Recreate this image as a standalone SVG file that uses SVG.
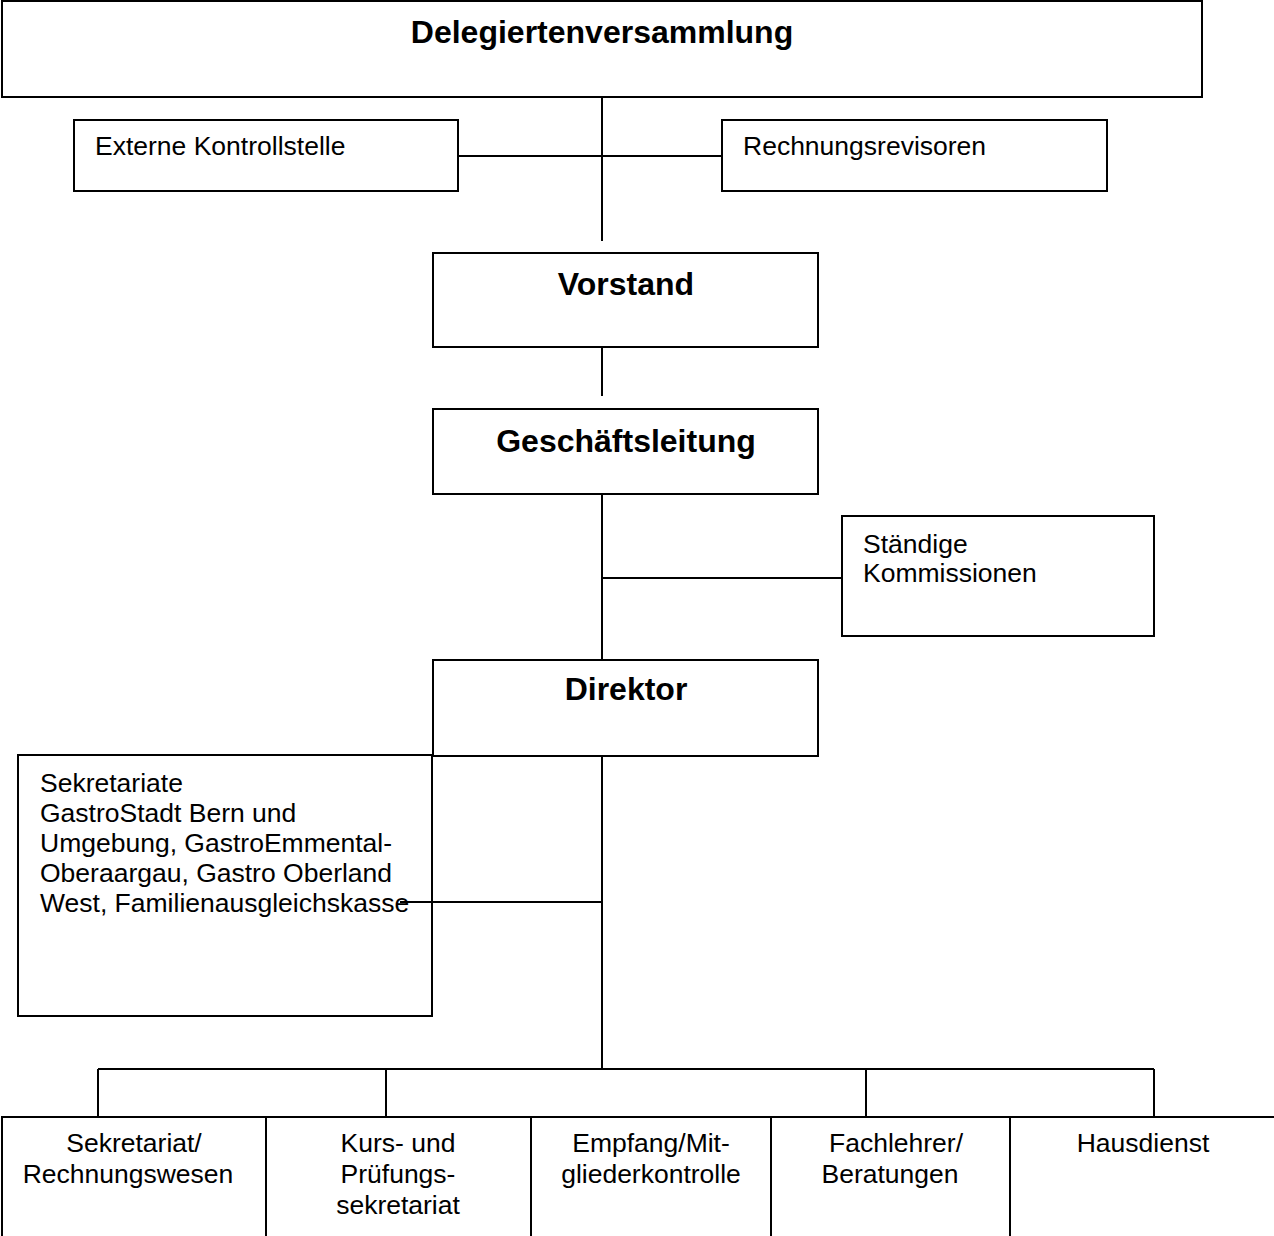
<svg xmlns="http://www.w3.org/2000/svg" width="1274" height="1236" viewBox="0 0 1274 1236">
<style>
rect{fill:#fff;stroke:#000;stroke-width:2}
line{stroke:#000;stroke-width:2}
text{font-family:"Liberation Sans",Arial,sans-serif;font-size:26.5px;fill:#000}
.b{font-weight:bold;font-size:32px;text-anchor:middle}
.c{text-anchor:middle}
</style>
<rect x="0" y="0" width="1274" height="1236" style="stroke:none"/>
<g id="delegiertenversammlung"><rect x="2" y="1" width="1200" height="96"/><text class="b" x="602" y="43">Delegiertenversammlung</text></g>
<g id="externe-kontrollstelle"><rect x="74" y="120" width="384" height="71"/><text x="95" y="155">Externe Kontrollstelle</text></g>
<g id="rechnungsrevisoren"><rect x="722" y="120" width="385" height="71"/><text x="743" y="155">Rechnungsrevisoren</text></g>
<g id="vorstand"><rect x="433" y="253" width="385" height="94"/><text class="b" x="626" y="295">Vorstand</text></g>
<g id="geschaeftsleitung"><rect x="433" y="409" width="385" height="85"/><text class="b" x="626" y="452">Geschäftsleitung</text></g>
<g id="staendige-kommissionen"><rect x="842" y="516" width="312" height="120"/><text x="863" y="553">Ständige</text><text x="863" y="582">Kommissionen</text></g>
<g id="direktor"><rect x="433" y="660" width="385" height="96"/><text class="b" x="626" y="700">Direktor</text></g>
<g id="sekretariate"><rect x="18" y="755" width="414" height="261"/>
<text x="40" y="792">Sekretariate</text>
<text x="40" y="822">GastroStadt Bern und</text>
<text x="40" y="852">Umgebung, GastroEmmental-</text>
<text x="40" y="882">Oberaargau, Gastro Oberland</text>
<text x="40" y="912">West, Familienausgleichskasse</text></g>
<g id="sekretariat-rechnungswesen"><rect x="2" y="1117" width="264" height="130"/><text class="c" x="134" y="1152">Sekretariat/</text><text class="c" x="128" y="1183">Rechnungswesen</text></g>
<g id="kurs-pruefungssekretariat"><rect x="266" y="1117" width="265" height="130"/><text class="c" x="398" y="1152">Kurs- und</text><text class="c" x="398" y="1183">Prüfungs-</text><text class="c" x="398" y="1214">sekretariat</text></g>
<g id="empfang"><rect x="531" y="1117" width="240" height="130"/><text class="c" x="651" y="1152">Empfang/Mit-</text><text class="c" x="651" y="1183">gliederkontrolle</text></g>
<g id="fachlehrer"><rect x="771" y="1117" width="239" height="130"/><text class="c" x="896" y="1152">Fachlehrer/</text><text class="c" x="890" y="1183">Beratungen</text></g>
<g id="hausdienst"><rect x="1010" y="1117" width="270" height="130"/><text class="c" x="1143" y="1152">Hausdienst</text></g>
<g id="connectors">
<line x1="602" y1="97" x2="602" y2="241"/>
<line x1="458" y1="156" x2="722" y2="156"/>
<line x1="602" y1="347" x2="602" y2="396"/>
<line x1="602" y1="494" x2="602" y2="660"/>
<line x1="602" y1="578" x2="842" y2="578"/>
<line x1="602" y1="756" x2="602" y2="1069"/>
<line x1="400" y1="902" x2="602" y2="902"/>
<line x1="98" y1="1069" x2="1154" y2="1069"/>
<line x1="98" y1="1069" x2="98" y2="1117"/>
<line x1="386" y1="1069" x2="386" y2="1117"/>
<line x1="866" y1="1069" x2="866" y2="1117"/>
<line x1="1154" y1="1069" x2="1154" y2="1117"/>
</g>
</svg>
